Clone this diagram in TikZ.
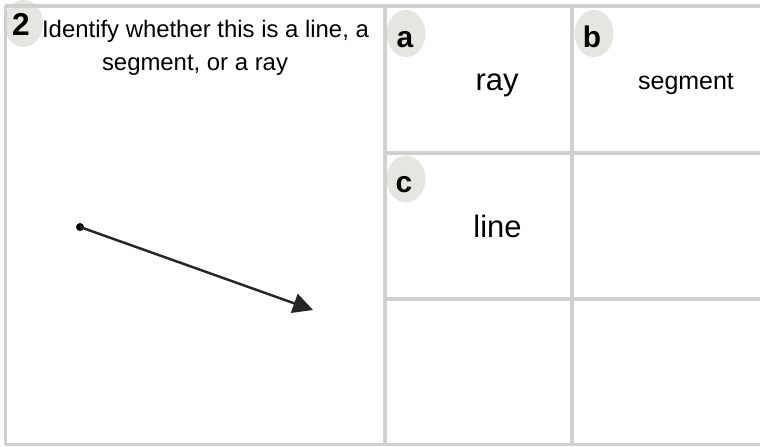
\documentclass[tikz,border=0pt]{standalone}
\usepackage{fontspec}
\setmainfont{Liberation Sans}
\usetikzlibrary{arrows.meta,shapes.geometric}

\definecolor{gridgray}{RGB}{208,208,208}
\definecolor{badgegray}{RGB}{230,230,224}

\tikzset{
  gridline/.style={draw=gridgray, line width=3.4pt},
  badge/.style={ellipse, fill=badgegray, inner sep=0pt, minimum width=1.17cm, minimum height=1.41cm},
  badgetext/.style={anchor=base, inner sep=0pt, font=\fontsize{25.5}{30}\bfseries\selectfont},
  question/.style={anchor=base, inner sep=0pt, font=\fontsize{20.4}{24}\selectfont},
  answer/.style={anchor=base, inner sep=0pt, font=\fontsize{26.4}{31}\selectfont},
}

\begin{document}
\begin{tikzpicture}[x=0.03cm, y=-0.03cm]
        \useasboundingbox (0, 0) rectangle (760, 446);
        \fill[white] (0, 0) rectangle (760, 446);

        %% badges
        \node[badge] (badgeQ) at (23.5, 23.5){};
        \node[badge] (badgeA) at (406, 33.5){};
        \node[badge] (badgeB) at (594, 33.5){};
        \node[badge] (badgeC) at (406, 179){};

        %% frame and grid
        \draw[gridline, line width=4.2pt] (5, 6) to (760, 6);
        \draw[gridline] (5.5, 6) to (5.5, 445);
        \draw[gridline, line width=2.6pt] (5, 444.5) to (760, 444.5);
        \draw[gridline] (385, 6) to (385, 445);
        \draw[gridline] (572, 6) to (572, 445);
        \draw[gridline] (385, 153) to (760, 153);
        \draw[gridline] (385, 299) to (760, 299);

        %% question
        \node[badgetext, font=\fontsize{27}{32}\bfseries\selectfont] (numQ) at (21, 35){2};
        \node[question] (titleA) at (205.5, 37.7){Identify whether this is a line, a};
        \node[question] (titleB) at (195, 70){segment, or a ray};

        %% the figure
        \node[circle, fill=black, inner sep=0pt, minimum size=0.24cm] (start) at (80, 227){};
        \coordinate (tip) at (313, 310);
        \draw[line width=2.1pt, draw=black!85, -{Triangle[length=17pt, width=17pt]}] (start.center) to (tip);

        %% answers
        \node[badgetext] (letA) at (405, 47){a};
        \node[answer] (ansA) at (497, 90.5){ray};

        \node[badgetext] (letB) at (592, 47){b};
        \node[answer, font=\fontsize{21.3}{25}\selectfont] (ansB) at (686, 89){segment};

        \node[badgetext] (letC) at (404, 192){c};
        \node[answer] (ansC) at (497.5, 237){line};
\end{tikzpicture}
\end{document}
